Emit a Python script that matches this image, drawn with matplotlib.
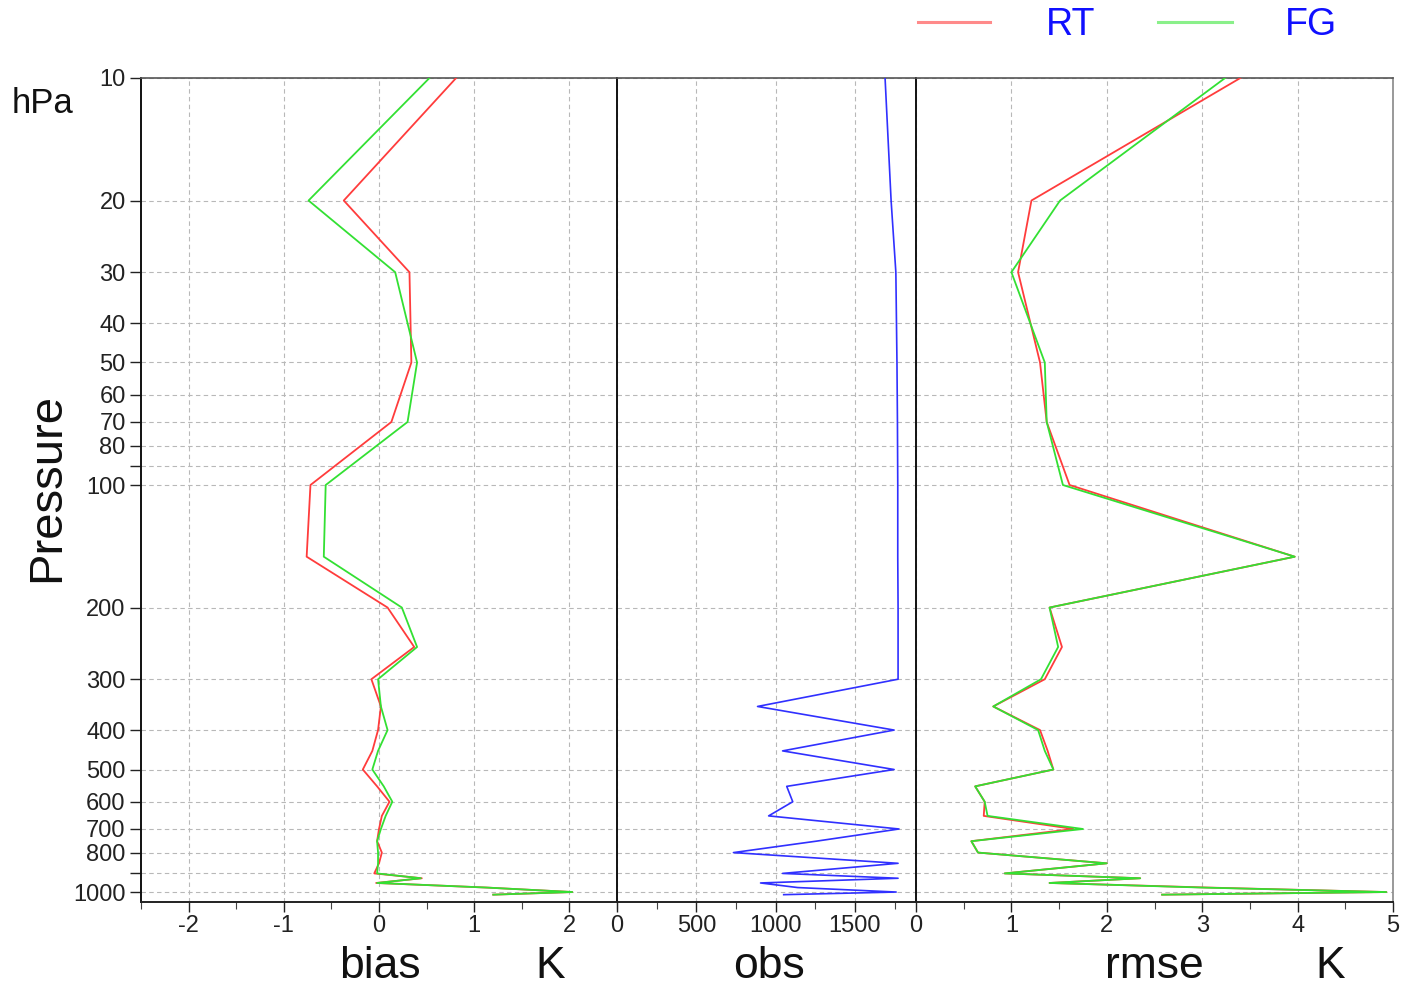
import matplotlib
matplotlib.use("Agg")
import matplotlib.pyplot as plt
from matplotlib.ticker import NullLocator, FixedLocator, MultipleLocator
from matplotlib.lines import Line2D

plt.rcParams['font.family'] = ['Liberation Sans', 'DejaVu Sans']

# ---------------- data ----------------
levels = [10, 20, 30, 50, 70, 100, 150, 200, 250, 300, 350, 400, 450, 500, 550,
          600, 650, 700, 750, 800, 850, 900, 925, 950, 975, 1000, 1015]

bias_rt = [0.81, -0.37, 0.32, 0.34, 0.13, -0.72, -0.76, 0.09, 0.37, -0.08, 0.02, -0.01, -0.07, -0.17, -0.02,
           0.11, 0.03, 0.00, -0.02, 0.03, 0.00, -0.05, 0.45, -0.03, 1.13, 2.03, 1.20]
bias_fg = [0.53, -0.74, 0.17, 0.40, 0.30, -0.56, -0.58, 0.24, 0.40, -0.01, 0.02, 0.09, -0.01, -0.07, 0.05,
           0.14, 0.07, 0.02, -0.02, -0.01, -0.01, -0.02, 0.44, -0.02, 1.13, 2.03, 1.20]

obs = [1690, 1728, 1758, 1765, 1768, 1770, 1770, 1772, 1772, 1772, 886, 1747, 1044, 1747, 1070,
       1108, 956, 1778, 1256, 734, 1772, 1044, 1772, 905, 1139, 1760, 1051]

rmse_rt = [3.40, 1.21, 1.07, 1.30, 1.37, 1.61, 3.97, 1.40, 1.53, 1.35, 0.81, 1.30, 1.38, 1.44, 0.62,
           0.72, 0.71, 1.65, 0.58, 0.65, 2.00, 0.93, 2.35, 1.40, 3.06, 4.93, 2.58]
rmse_fg = [3.24, 1.51, 1.00, 1.35, 1.37, 1.54, 3.97, 1.40, 1.49, 1.31, 0.81, 1.28, 1.35, 1.44, 0.62,
           0.72, 0.75, 1.75, 0.58, 0.65, 2.00, 0.93, 2.35, 1.40, 3.00, 4.93, 2.58]

ytick_vals = [10, 20, 30, 40, 50, 60, 70, 80, 90, 100, 200, 300, 400, 500, 600, 700, 800, 900, 1000]
ytick_labels = ['10', '20', '30', '40', '50', '60', '70', '80', '', '100', '200', '300', '400',
                '500', '600', '700', '800', '', '1000']

bias_ticks = [-2, -1, 0, 1, 2]
bias_labels = ['-2', '-1', '0', '1', '2']
obs_ticks = [0, 500, 1000, 1500]
obs_labels = ['0', '500', '1000', '1500']
rmse_ticks = [0, 1, 2, 3, 4, 5]
rmse_labels = ['0', '1', '2', '3', '4', '5']

# ---------------- style ----------------
RED = '#ff3c3c'
GREEN = '#33e033'
BLUE = '#3030ff'
GRID = dict(color='#b8b8b8', linestyle=(0, (4, 3)), linewidth=0.8)

W, Hpx = 1406, 989
fig = plt.figure(figsize=(W / 100, Hpx / 100), dpi=100)
B = (Hpx - 902) / Hpx
H = 824 / Hpx
ax1 = fig.add_axes([141 / W, B, 476 / W, H])
ax2 = fig.add_axes([617 / W, B, 299 / W, H], sharey=ax1)
ax3 = fig.add_axes([916 / W, B, 477 / W, H], sharey=ax1)

ax1.plot(bias_rt, levels, color=RED, lw=1.3, zorder=3)
ax1.plot(bias_fg, levels, color=GREEN, lw=1.3, zorder=4)
ax2.plot(obs, levels, color=BLUE, lw=1.2, zorder=3)
ax3.plot(rmse_rt, levels, color=RED, lw=1.3, zorder=3)
ax3.plot(rmse_fg, levels, color=GREEN, lw=1.3, zorder=4)

ax1.set_yscale('log')
ax1.set_ylim(1058, 10)
ax1.yaxis.set_major_locator(FixedLocator(ytick_vals))
ax1.yaxis.set_minor_locator(NullLocator())
ax1.set_yticks(ytick_vals)
ax1.set_yticklabels(ytick_labels)

ax1.set_xlim(-2.5, 2.5)
ax1.set_xticks(bias_ticks)
ax1.set_xticklabels(bias_labels)
ax1.xaxis.set_minor_locator(MultipleLocator(0.5))

ax2.set_xlim(0, 1885)
ax2.set_xticks(obs_ticks)
ax2.set_xticklabels(obs_labels)
ax2.xaxis.set_minor_locator(MultipleLocator(250))

ax3.set_xlim(0, 5)
ax3.set_xticks(rmse_ticks)
ax3.set_xticklabels(rmse_labels)
ax3.xaxis.set_minor_locator(MultipleLocator(0.5))

for ax in (ax1, ax2, ax3):
    ax.grid(True, which='major', **GRID)
    ax.set_axisbelow(True)
    ax.tick_params(axis='x', which='major', direction='out', length=7, width=1,
                   labelsize=17, pad=2, colors='#222222')
    ax.tick_params(axis='x', which='minor', direction='out', length=5, width=0.8, colors='#444444')
    ax.spines['top'].set_color('#555555')
    ax.spines['top'].set_linewidth(1.2)
    ax.spines['bottom'].set_color('#222222')
    ax.spines['bottom'].set_linewidth(1.4)
    ax.spines['left'].set_color('#111111')
    ax.spines['left'].set_linewidth(1.4)
    ax.spines['right'].set_visible(False)

ax1.tick_params(axis='y', which='major', direction='out', length=8, width=1,
                labelsize=17, pad=3, colors='#222222')
for ax in (ax2, ax3):
    ax.tick_params(axis='y', which='both', left=False, labelleft=False)
ax3.spines['right'].set_visible(True)
ax3.spines['right'].set_color('#888888')
ax3.spines['right'].set_linewidth(1.2)

# ---------------- texts ----------------
def fx(x):
    return x / W

def fy(y):
    return 1 - y / Hpx

fig.text(fx(43), fy(113), 'hPa', ha='center', va='baseline', fontsize=25, color='#111111')
fig.text(fx(47), fy(488), 'Pressure', ha='center', va='center', rotation=90,
         fontsize=34, color='#111111')
for xpos, label in [(380, 'bias'), (550, 'K'), (769, 'obs'), (1154, 'rmse'), (1330, 'K')]:
    fig.text(fx(xpos), fy(978), label, ha='center', va='baseline', fontsize=32, color='#111111')

# legend
fig.add_artist(Line2D([fx(918), fx(990)], [fy(22), fy(22)], color='#ff8a8a', lw=2.2))
fig.add_artist(Line2D([fx(1158), fx(1232)], [fy(22), fy(22)], color='#8af08a', lw=2.2))
fig.text(fx(1071), fy(25), 'RT', ha='center', va='center', fontsize=27, color='#1010ff')
fig.text(fx(1311), fy(25), 'FG', ha='center', va='center', fontsize=27, color='#1010ff')

fig.savefig('out.png', dpi=100)
